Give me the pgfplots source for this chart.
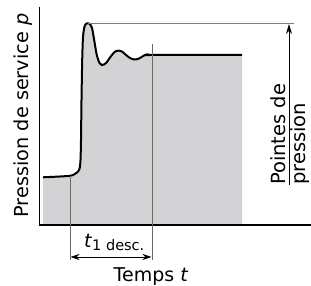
\documentclass[border=0pt]{standalone}
\usepackage{pgfplots}
\pgfplotsset{compat=1.18}
\usepackage{fontspec}
\setmainfont{DejaVu Sans}
\usetikzlibrary{arrows.meta}
\definecolor{fillgray}{RGB}{211,211,213}
\definecolor{thingray}{RGB}{105,105,105}
\begin{document}
\begin{tikzpicture}
\begin{axis}[
  scale only axis, width=311pt, height=286pt,
  xmin=0, xmax=311, ymin=-61, ymax=225,
  axis lines=none, ticks=none, clip=true,
]
% fill under the pressure curve
\addplot[fill=fillgray, draw=none, smooth, tension=0.45] coordinates {
(43,47.7)(60,48.5)(70,49.2)(74,50.5)(77,52.5)(79.5,56)(80.5,65)(81,85)(81.5,125)(82.2,165)(83,188)(84.5,198.5)(86.5,201.5)(88.3,201.7)(90,201)(92,197)(93.5,189)(95,180)(97,169)(99.5,162)(101.7,160)(104,160.5)(107,163)(110,167.5)(114,172.5)(117,174.2)(119.3,174.3)(122,173.5)(126,170)(130,167)(134,165.5)(136.7,165.7)(140,167)(144,169.5)(147.3,170.7)(150,170)(152,170)(242,170)
} \closedcycle;
% pressure curve
\addplot[black, line width=2pt, smooth, tension=0.45] coordinates {
(43,47.7)(60,48.5)(70,49.2)(74,50.5)(77,52.5)(79.5,56)(80.5,65)(81,85)(81.5,125)(82.2,165)(83,188)(84.5,198.5)(86.5,201.5)(88.3,201.7)(90,201)(92,197)(93.5,189)(95,180)(97,169)(99.5,162)(101.7,160)(104,160.5)(107,163)(110,167.5)(114,172.5)(117,174.2)(119.3,174.3)(122,173.5)(126,170)(130,167)(134,165.5)(136.7,165.7)(140,167)(144,169.5)(147.3,170.7)(150,170)(152,170)(242,170)
};
% axes
\draw[black, line width=1.4pt] (axis cs:39.5,218) -- (axis cs:39.5,0) -- (axis cs:311,0);
% peak line
\draw[gray, line width=1pt] (axis cs:88,201.7) -- (axis cs:294,201.7);
% vertical helper lines
\draw[thingray, line width=1pt] (axis cs:70,49) -- (axis cs:70,-35);
\draw[thingray, line width=1pt] (axis cs:152,181) -- (axis cs:152,-35);
% time arrow
\draw[black, line width=0.9pt, {Stealth[length=9pt,width=6pt]}-{Stealth[length=9pt,width=6pt]}] (axis cs:70.5,-32) -- (axis cs:151.5,-32);
% pressure peak arrow
\draw[black, line width=0.9pt, -{Stealth[length=10pt,width=6pt]}] (axis cs:289,40) -- (axis cs:289,201);
% labels
\node[rotate=90, anchor=base, inner sep=0pt, font=\fontsize{19.3}{21}\selectfont] at (axis cs:28.5,109.5) {Pression de service \textit{p}};
\node[anchor=base, inner sep=0pt, font=\fontsize{19}{21}\selectfont] at (axis cs:151,-56.5) {Temps \textit{t}};
\node[anchor=base west, inner sep=0pt, font=\fontsize{19}{21}\selectfont] at (axis cs:84,-23) {\textit{t}\raisebox{-0.2ex}{\fontsize{14.5}{15}\selectfont 1 desc.}};
\node[rotate=90, anchor=base west, inner sep=0pt, font=\fontsize{19.5}{21}\selectfont] at (axis cs:285,40) {Pointes de};
\node[rotate=90, anchor=base west, inner sep=0pt, font=\fontsize{19.5}{21}\selectfont] at (axis cs:305.5,40) {pression};
\end{axis}
\pgfresetboundingbox
\path[use as bounding box] (current axis.south west) rectangle (current axis.north east);
\end{tikzpicture}
\end{document}
